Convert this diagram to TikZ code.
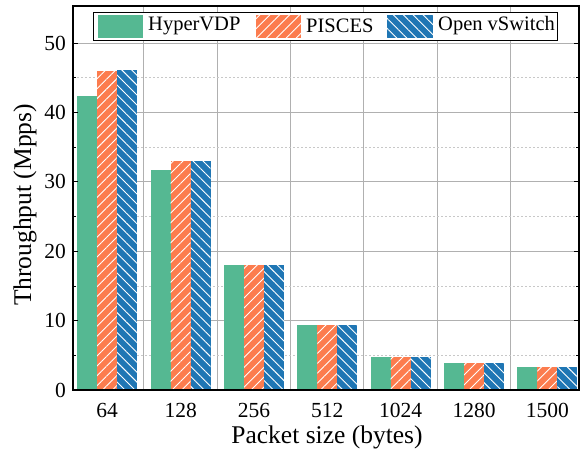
\documentclass[tikz,border=0pt]{standalone}
\usepackage{fontspec}
\setmainfont{Liberation Serif}
\usetikzlibrary{patterns.meta}
\definecolor{cgreen}{RGB}{85,184,146}
\definecolor{corange}{RGB}{252,124,78}
\definecolor{cblue}{RGB}{31,118,180}
\definecolor{gridgray}{RGB}{176,176,176}
\definecolor{minorgray}{RGB}{200,200,200}
\tikzset{
  bargreen/.style={fill=cgreen},
  barorange/.style={fill=corange,
    postaction={pattern={Lines[angle=45,distance=7pt,line width=0.9pt]},pattern color=white}},
  barblue/.style={fill=cblue,
    postaction={pattern={Lines[angle=-45,distance=7pt,line width=0.9pt]},pattern color=white}},
  majorgrid/.style={draw=gridgray,line width=0.8pt},
  minorgrid/.style={draw=minorgray,line width=0.7pt,dash pattern=on 2pt off 2pt},
  frame/.style={draw=black,line width=1.8pt},
  ticklabel/.style={font=\fontsize{21.5}{25}\selectfont,inner sep=0pt},
  legendlabel/.style={font=\fontsize{20.5}{24}\selectfont,inner sep=0pt},
  axislabel/.style={font=\fontsize{25.5}{30}\selectfont,inner sep=0pt},
}
\begin{document}
\begin{tikzpicture}[x=1pt,y=-1pt]
  \useasboundingbox (0,0) rectangle (585,453);
  % vertical grid between groups
  \foreach \gx in {143.5,217,290.3,363.6,437,510.3}
    \draw[majorgrid] (\gx,6) -- (\gx,390);
  % horizontal grid
  \foreach \v in {5,15,25,35,45}
    \draw[minorgrid] (73,{390-\v*6.94}) -- (579,{390-\v*6.94});
  \foreach \v in {10,20,30,40,50}
    \draw[majorgrid] (73,{390-\v*6.94}) -- (579,{390-\v*6.94});
  % bars: centre / HyperVDP / PISCES / Open vSwitch
  \foreach \cx/\a/\b/\c/\lab in {107/42.3/45.9/46.1/64, 180.7/31.7/33.0/33.0/128,
      254/18.0/18.0/18.0/256, 327.3/9.35/9.35/9.35/512, 400.7/4.7/4.7/4.7/1024,
      474/3.85/3.85/3.85/1280, 547.3/3.27/3.27/3.27/1500} {
    \path[bargreen] (\cx-30,390) rectangle (\cx-10,{390-\a*6.94});
    \path[barorange] (\cx-10,390) rectangle (\cx+10,{390-\b*6.94});
    \path[barblue] (\cx+10,390) rectangle (\cx+30,{390-\c*6.94});
    \node[ticklabel] at (\cx,410) {\lab};
  }
  % ticks on left and right axes
  \foreach \v in {0,10,20,30,40,50} {
    \draw[line width=0.8pt] (73,{390-\v*6.94}) -- (78,{390-\v*6.94});
    \draw[line width=0.8pt] (579,{390-\v*6.94}) -- (574,{390-\v*6.94});
    \node[ticklabel,anchor=east] at (66,{390-\v*6.94}) {\v};
  }
  \foreach \v in {5,15,25,35,45} {
    \draw[line width=0.7pt] (73,{390-\v*6.94}) -- (76,{390-\v*6.94});
    \draw[line width=0.7pt] (579,{390-\v*6.94}) -- (576,{390-\v*6.94});
  }
  % frame
  \draw[frame] (73,6) rectangle (579,390);
  % axis labels
  \node[axislabel,rotate=90] at (25,205) {Throughput (Mpps)};
  \node[axislabel] at (327,437) {Packet size (bytes)};
  % legend
  \draw[fill=white,line width=0.9pt] (93,12) rectangle (557,40);
  \path[bargreen] (98,14.5) rectangle (143,37.5);
  \path[barorange] (256,14.5) rectangle (301,37.5);
  \path[barblue] (387,14.5) rectangle (433,37.5);
  \node[legendlabel,anchor=west] at (148,26) {HyperVDP};
  \node[legendlabel,anchor=west] at (306,26) {PISCES};
  \node[legendlabel,anchor=west] at (438,26) {Open vSwitch};
\end{tikzpicture}
\end{document}
